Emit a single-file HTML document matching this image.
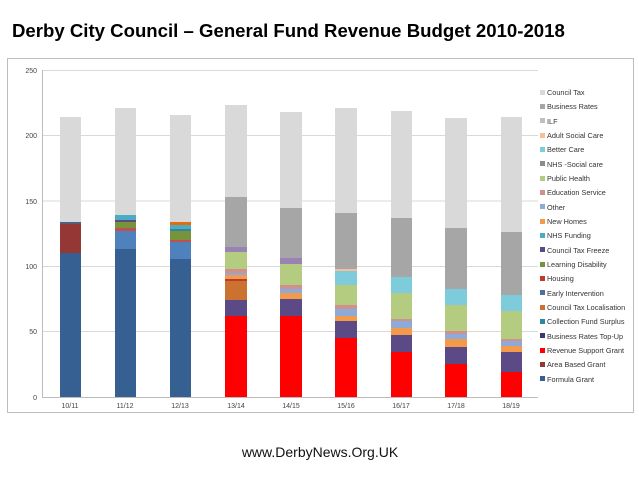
<!DOCTYPE html><html><head><style>body{margin:0;background:#fff}svg{display:block}</style></head><body>
<svg width="639" height="479" xmlns="http://www.w3.org/2000/svg" font-family="Liberation Sans, sans-serif">
<text x="12" y="37" font-size="18.6" font-weight="bold">Derby City Council – General Fund Revenue Budget  2010-2018</text>
<rect x="7.5" y="58.5" width="626" height="354" fill="none" stroke="#bdbdbd"/>
<g stroke="#d9d9d9" stroke-width="1">
<line x1="42" y1="70.5" x2="538" y2="70.5"/><line x1="42" y1="135.5" x2="538" y2="135.5"/><line x1="42" y1="201" x2="538" y2="201"/><line x1="42" y1="266.5" x2="538" y2="266.5"/><line x1="42" y1="331.5" x2="538" y2="331.5"/>
</g>
<line x1="42.5" y1="70" x2="42.5" y2="397" stroke="#bbb"/>
<line x1="42" y1="397.5" x2="538" y2="397.5" stroke="#bbb"/>
<g font-size="7" fill="#444" text-anchor="end">
<text x="37" y="73">250</text><text x="37" y="138">200</text><text x="37" y="204">150</text><text x="37" y="269">100</text><text x="37" y="334">50</text><text x="37" y="400">0</text>
</g>
<g font-size="7" fill="#444" text-anchor="middle">
<text x="70" y="408">10/11</text><text x="125" y="408">11/12</text><text x="180" y="408">12/13</text><text x="236" y="408">13/14</text><text x="291" y="408">14/15</text><text x="346" y="408">15/16</text><text x="401" y="408">16/17</text><text x="456" y="408">17/18</text><text x="511" y="408">18/19</text>
</g>
<g transform="translate(60,0)">
<rect y="117" width="21" height="105" fill="#d9d9d9"/><rect y="222" width="21" height="2" fill="#4f5f7f"/><rect y="224" width="21" height="29" fill="#953735"/><rect y="253" width="21" height="144" fill="#376092"/>
</g>
<g transform="translate(115,0)">
<rect y="108" width="21" height="107" fill="#d9d9d9"/><rect y="215" width="21" height="5" fill="#4bacc6"/><rect y="220" width="21" height="2" fill="#604a7b"/><rect y="222" width="21" height="6" fill="#77933c"/><rect y="228" width="21" height="3" fill="#c0504d"/><rect y="231" width="21" height="18" fill="#4f81bd"/><rect y="249" width="21" height="148" fill="#376092"/>
</g>
<g transform="translate(170,0)">
<rect y="115" width="21" height="107" fill="#d9d9d9"/><rect y="222" width="21" height="3" fill="#e46c0a"/><rect y="225" width="21" height="4" fill="#4bacc6"/><rect y="229" width="21" height="2" fill="#31859c"/><rect y="231" width="21" height="9" fill="#77933c"/><rect y="240" width="21" height="2" fill="#c0504d"/><rect y="242" width="21" height="17" fill="#4f81bd"/><rect y="259" width="21" height="138" fill="#376092"/>
</g>
<g transform="translate(225,0)">
<rect y="105" width="22" height="92" fill="#d9d9d9"/><rect y="197" width="22" height="50" fill="#a6a6a6"/><rect y="247" width="22" height="5" fill="#9983b5"/><rect y="252" width="22" height="17" fill="#b3cc7f"/><rect y="269" width="22" height="4" fill="#d0908e"/><rect y="273" width="22" height="2" fill="#8eaad8"/><rect y="275" width="22" height="4" fill="#f39b4b"/><rect y="279" width="22" height="2" fill="#c0392b"/><rect y="281" width="22" height="19" fill="#cc7231"/><rect y="300" width="22" height="16" fill="#5b4a85"/><rect y="316" width="22" height="81" fill="#ff0000"/>
</g>
<g transform="translate(280,0)">
<rect y="112" width="22" height="96" fill="#d9d9d9"/><rect y="208" width="22" height="50" fill="#a6a6a6"/><rect y="258" width="22" height="6" fill="#9983b5"/><rect y="264" width="22" height="21" fill="#b3cc7f"/><rect y="285" width="22" height="4" fill="#d0908e"/><rect y="289" width="22" height="4" fill="#8eaad8"/><rect y="293" width="22" height="6" fill="#f39b4b"/><rect y="299" width="22" height="17" fill="#5b4a85"/><rect y="316" width="22" height="81" fill="#ff0000"/>
</g>
<g transform="translate(335,0)">
<rect y="108" width="22" height="105" fill="#d9d9d9"/><rect y="213" width="22" height="56" fill="#a6a6a6"/><rect y="269" width="22" height="2" fill="#f8c09a"/><rect y="271" width="22" height="14" fill="#7ecbdc"/><rect y="285" width="22" height="20" fill="#b3cc7f"/><rect y="305" width="22" height="4" fill="#d0908e"/><rect y="309" width="22" height="7" fill="#8eaad8"/><rect y="316" width="22" height="5" fill="#f39b4b"/><rect y="321" width="22" height="17" fill="#5b4a85"/><rect y="338" width="22" height="59" fill="#ff0000"/>
</g>
<g transform="translate(391,0)">
<rect y="111" width="21" height="107" fill="#d9d9d9"/><rect y="218" width="21" height="59" fill="#a6a6a6"/><rect y="277" width="21" height="16" fill="#7ecbdc"/><rect y="293" width="21" height="26" fill="#b3cc7f"/><rect y="319" width="21" height="2" fill="#d0908e"/><rect y="321" width="21" height="7" fill="#8eaad8"/><rect y="328" width="21" height="7" fill="#f39b4b"/><rect y="335" width="21" height="17" fill="#5b4a85"/><rect y="352" width="21" height="45" fill="#ff0000"/>
</g>
<g transform="translate(445,0)">
<rect y="118" width="22" height="110" fill="#d9d9d9"/><rect y="228" width="22" height="61" fill="#a6a6a6"/><rect y="289" width="22" height="16" fill="#7ecbdc"/><rect y="305" width="22" height="26" fill="#b3cc7f"/><rect y="331" width="22" height="3" fill="#d0908e"/><rect y="334" width="22" height="5" fill="#8eaad8"/><rect y="339" width="22" height="8" fill="#f39b4b"/><rect y="347" width="22" height="17" fill="#5b4a85"/><rect y="364" width="22" height="33" fill="#ff0000"/>
</g>
<g transform="translate(501,0)">
<rect y="117" width="21" height="115" fill="#d9d9d9"/><rect y="232" width="21" height="63" fill="#a6a6a6"/><rect y="295" width="21" height="16" fill="#7ecbdc"/><rect y="311" width="21" height="28" fill="#b3cc7f"/><rect y="339" width="21" height="2" fill="#d0908e"/><rect y="341" width="21" height="5" fill="#8eaad8"/><rect y="346" width="21" height="6" fill="#f39b4b"/><rect y="352" width="21" height="20" fill="#5b4a85"/><rect y="372" width="21" height="25" fill="#ff0000"/>
</g>
<g font-size="7.3" fill="#333">
<rect x="540" y="90" width="5" height="5" fill="#d9d9d9"/><text x="547" y="95">Council Tax</text>
<rect x="540" y="104" width="5" height="5" fill="#a6a6a6"/><text x="547" y="109">Business Rates</text>
<rect x="540" y="118" width="5" height="5" fill="#bfbfbf"/><text x="547" y="124">ILF</text>
<rect x="540" y="133" width="5" height="5" fill="#f8c09a"/><text x="547" y="138">Adult Social Care</text>
<rect x="540" y="147" width="5" height="5" fill="#7ecbdc"/><text x="547" y="152">Better Care</text>
<rect x="540" y="161" width="5" height="5" fill="#8c8c8c"/><text x="547" y="167">NHS -Social care</text>
<rect x="540" y="176" width="5" height="5" fill="#b3cc7f"/><text x="547" y="181">Public Health</text>
<rect x="540" y="190" width="5" height="5" fill="#d0908e"/><text x="547" y="195">Education Service</text>
<rect x="540" y="204" width="5" height="5" fill="#8eaad8"/><text x="547" y="210">Other</text>
<rect x="540" y="219" width="5" height="5" fill="#f39b4b"/><text x="547" y="224">New Homes</text>
<rect x="540" y="233" width="5" height="5" fill="#4bacc6"/><text x="547" y="238">NHS Funding</text>
<rect x="540" y="247" width="5" height="5" fill="#5b4a85"/><text x="547" y="253">Council Tax Freeze</text>
<rect x="540" y="262" width="5" height="5" fill="#77933c"/><text x="547" y="267">Learning Disability</text>
<rect x="540" y="276" width="5" height="5" fill="#c0392b"/><text x="547" y="281">Housing</text>
<rect x="540" y="290" width="5" height="5" fill="#4f6fa0"/><text x="547" y="296">Early Intervention</text>
<rect x="540" y="305" width="5" height="5" fill="#cc7231"/><text x="547" y="310">Council Tax Localisation</text>
<rect x="540" y="319" width="5" height="5" fill="#31859c"/><text x="547" y="324">Collection Fund Surplus</text>
<rect x="540" y="333" width="5" height="5" fill="#403770"/><text x="547" y="339">Business Rates Top-Up</text>
<rect x="540" y="348" width="5" height="5" fill="#ff0000"/><text x="547" y="353">Revenue Support Grant</text>
<rect x="540" y="362" width="5" height="5" fill="#953735"/><text x="547" y="367">Area Based Grant</text>
<rect x="540" y="376" width="5" height="5" fill="#376092"/><text x="547" y="382">Formula Grant</text>
</g>
<text x="320" y="457" font-size="14" text-anchor="middle" fill="#111">www.DerbyNews.Org.UK</text>
</svg>
</body></html>
